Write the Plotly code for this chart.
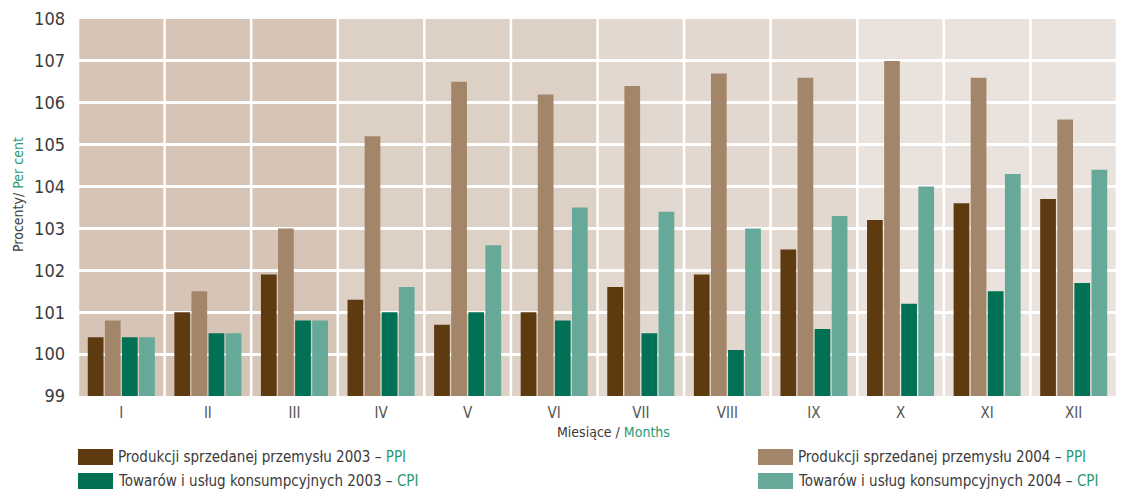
import plotly.graph_objects as go

months = ["I", "II", "III", "IV", "V", "VI", "VII", "VIII", "IX", "X", "XI", "XII"]
ppi_2003 = [100.4, 101.0, 101.9, 101.3, 100.7, 101.0, 101.6, 101.9, 102.5, 103.2, 103.6, 103.7]
ppi_2004 = [100.8, 101.5, 103.0, 105.2, 106.5, 106.2, 106.4, 106.7, 106.6, 107.0, 106.6, 105.6]
cpi_2003 = [100.4, 100.5, 100.8, 101.0, 101.0, 100.8, 100.5, 100.1, 100.6, 101.2, 101.5, 101.7]
cpi_2004 = [100.4, 100.5, 100.8, 101.6, 102.6, 103.5, 103.4, 103.0, 103.3, 104.0, 104.3, 104.4]

series_names = ["Produkcji sprzedanej przemysłu 2003", "Produkcji sprzedanej przemysłu 2004",
                "Towarów i usług konsumpcyjnych 2003", "Towarów i usług konsumpcyjnych 2004"]
series_tags = ["PPI", "PPI", "CPI", "CPI"]
colors = ["#5e3a10", "#a3866a", "#007155", "#66a999"]
y_ticks = [99, 100, 101, 102, 103, 104, 105, 106, 107, 108]

FONT = "DejaVu Sans Condensed, Liberation Sans Narrow, Liberation Sans, sans-serif"
GREEN = "#2a9a74"
TXT = "#3a3a3a"

# page has an 8px body margin; design in page pixels and shift by OFF
OFF = 8
W, H = 1127 - OFF, 489 - OFF
ml, mr, mt, mb = 78 - OFF, 10, 19 - OFF, 93
pw, ph = W - ml - mr, H - mt - mb


def px_x(x):
    return (x - OFF - ml) / pw


def px_y(y):
    return 1 - (y - OFF - mt) / ph


fig = go.Figure()
for name, vals, col in zip(series_names, [ppi_2003, ppi_2004, cpi_2003, cpi_2004], colors):
    fig.add_trace(go.Bar(x=months, y=vals, name=name, marker=dict(color=col, line=dict(width=0)),
                         showlegend=False))

# background bands (quarters)
band_colors = ["#d6c5b6", "#ddd0c4", "#e2d8cf", "#eae3dd"]
shapes = []
for i, c in enumerate(band_colors):
    shapes.append(dict(type="rect", xref="x", yref="paper", x0=i * 3 - 0.5, x1=i * 3 + 2.5,
                       y0=0, y1=1, fillcolor=c, line=dict(width=0), layer="below"))
for k in range(len(months) + 1):
    shapes.append(dict(type="line", xref="x", yref="paper", x0=k - 0.5, x1=k - 0.5, y0=0, y1=1,
                       line=dict(color="white", width=2.5), layer="below"))

legend_pos = [(78, 457), (758, 457), (78, 481), (758, 481)]
annotations = []
for (lx, ly), name, tag, col in zip(legend_pos, series_names, series_tags, colors):
    shapes.append(dict(type="rect", xref="paper", yref="paper", x0=px_x(lx), x1=px_x(lx + 35),
                       y0=px_y(ly + 8), y1=px_y(ly - 8), fillcolor=col, line=dict(width=0)))
    annotations.append(dict(xref="paper", yref="paper", x=px_x(lx + 38), y=px_y(ly),
                            xanchor="left", yanchor="middle", showarrow=False,
                            text=f"{name} – <span style='color:{GREEN}'>{tag}</span>",
                            font=dict(family=FONT, size=15, color=TXT)))

annotations.append(dict(xref="paper", yref="paper", x=px_x(613), y=px_y(432), xanchor="center",
                        yanchor="middle", showarrow=False,
                        text=f"Miesiące / <span style='color:{GREEN}'>Months</span>",
                        font=dict(family=FONT, size=14, color=TXT)))
annotations.append(dict(xref="paper", yref="paper", x=px_x(18), y=px_y(195), xanchor="center",
                        yanchor="middle", showarrow=False, textangle=-90,
                        text=f"Procenty/ <span style='color:{GREEN}'>Per cent</span>",
                        font=dict(family=FONT, size=14, color=TXT)))

fig.update_layout(
    width=W, height=H,
    margin=dict(l=ml, r=mr, t=mt, b=mb, autoexpand=False),
    paper_bgcolor="white", plot_bgcolor="white",
    barmode="group", bargap=0.21, bargroupgap=0.08,
    shapes=shapes, annotations=annotations,
    font=dict(family=FONT, color=TXT),
    xaxis=dict(showgrid=False, zeroline=False, showline=False, ticks="", automargin=False,
               ticklabelstandoff=6,
               tickfont=dict(family=FONT, size=15, color="#555555"), range=[-0.5, 11.5]),
    yaxis=dict(range=[99, 108], tickvals=y_ticks, showgrid=True, gridcolor="white", gridwidth=2.5,
               zeroline=False, showline=False, ticks="", automargin=False, ticklabelstandoff=12,
               tickfont=dict(family=FONT, size=18, color=TXT)),
)

fig.write_html("out.html")
